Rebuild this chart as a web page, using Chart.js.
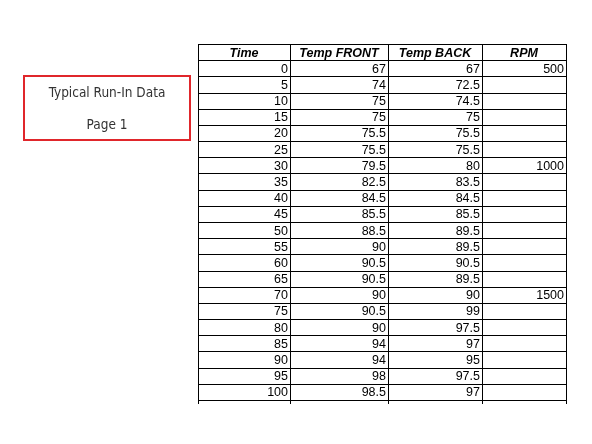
<!DOCTYPE html>
<html>
<head>
<meta charset="utf-8">
<script src="https://cdn.jsdelivr.net/npm/chart.js@4"></script>
<style>
  body { margin: 0; background: #fff; }
  #wrap { position: relative; width: 592px; height: 444px; }
  #box {
    position: absolute; left: 23px; top: 75px; width: 164px; height: 62px;
    border: 2px solid #e0262b; font-family: "DejaVu Sans Condensed", "DejaVu Sans", sans-serif;
    font-size: 13.5px; color: #333; text-align: center;
  }
  #box div { position: absolute; left: 0; right: 0; }
</style>
</head>
<body>
<div id="wrap">
  <canvas id="tbl" width="592" height="444"></canvas>
  <div id="box"><div style="top:7px">Typical Run-In Data</div><div style="top:39px">Page 1</div></div>
</div>
<script>
const headers = ["Time", "Temp FRONT", "Temp BACK", "RPM"];
const times = [0, 5, 10, 15, 20, 25, 30, 35, 40, 45, 50, 55, 60, 65, 70, 75, 80, 85, 90, 95, 100];
const tempFront = [67, 74, 75, 75, 75.5, 75.5, 79.5, 82.5, 84.5, 85.5, 88.5, 90, 90.5, 90.5, 90, 90.5, 90, 94, 94, 98, 98.5];
const tempBack = [67, 72.5, 74.5, 75, 75.5, 75.5, 80, 83.5, 84.5, 85.5, 89.5, 89.5, 90.5, 89.5, 90, 99, 97.5, 97, 95, 97.5, 97];
const rpm = [500, null, null, null, null, null, 1000, null, null, null, null, null, null, null, 1500, null, null, null, null, null, null];
const colEdges = [0, 92, 190, 284, 368];

const columns = [times, tempFront, tempBack, rpm];
const datasets = columns.map((vals, c) => ({
  label: headers[c],
  data: vals.map((v, r) => ({ x: colEdges[c + 1], y: r + 1.5, v })),
  pointRadius: 0
}));

const tablePlugin = {
  id: 'table',
  afterDraw(chart) {
    const ctx = chart.ctx;
    const xs = chart.scales.x, ys = chart.scales.y;
    const nRows = times.length + 1;
    ctx.save();
    ctx.strokeStyle = '#000';
    ctx.lineWidth = 1;
    for (let r = 0; r <= nRows; r++) {
      const y = Math.round(ys.getPixelForValue(r)) + 0.5;
      ctx.beginPath();
      ctx.moveTo(xs.getPixelForValue(0), y);
      ctx.lineTo(xs.getPixelForValue(colEdges[colEdges.length - 1]), y);
      ctx.stroke();
    }
    colEdges.forEach(e => {
      const x = Math.round(xs.getPixelForValue(e)) + 0.5;
      ctx.beginPath();
      ctx.moveTo(x, ys.getPixelForValue(0));
      ctx.lineTo(x, ys.getPixelForValue(nRows) + 4);
      ctx.stroke();
    });
    ctx.fillStyle = '#000';
    ctx.textBaseline = 'middle';
    ctx.font = 'italic bold 12.5px "Liberation Sans", Arial, sans-serif';
    ctx.textAlign = 'center';
    headers.forEach((h, c) => {
      const x = (xs.getPixelForValue(colEdges[c]) + xs.getPixelForValue(colEdges[c + 1])) / 2;
      ctx.fillText(h, x, ys.getPixelForValue(0.5) + 1);
    });
    ctx.font = '12.5px "Liberation Sans", Arial, sans-serif';
    ctx.textAlign = 'right';
    chart.data.datasets.forEach((ds, i) => {
      chart.getDatasetMeta(i).data.forEach((pt, j) => {
        const v = ds.data[j].v;
        if (v === null) return;
        ctx.fillText(String(v), pt.x - 2, pt.y + 1);
      });
    });
    ctx.restore();
  }
};

new Chart(document.getElementById('tbl'), {
  type: 'scatter',
  data: { datasets },
  options: {
    responsive: false,
    animation: false,
    events: [],
    layout: { padding: { left: 198, right: 26, top: 44, bottom: 44 } },
    plugins: { legend: { display: false }, tooltip: { enabled: false } },
    scales: {
      x: { display: false, min: 0, max: 368 },
      y: { display: false, min: 0, max: 22, reverse: true }
    }
  },
  plugins: [tablePlugin]
});
</script>
</body>
</html>
